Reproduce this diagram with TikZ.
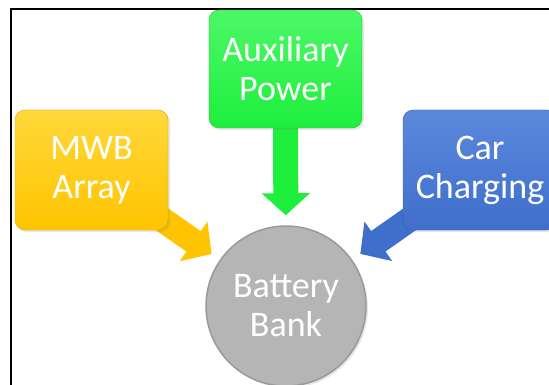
\documentclass[tikz,border=0pt]{standalone}
\usepackage{fontspec}
\setmainfont{Carlito}
\usepackage{tikz}
\usetikzlibrary{arrows.meta, backgrounds, shadows}

\definecolor{mwbgold}{HTML}{FFC400}
\definecolor{mwbgoldtop}{HTML}{FFD83A}
\definecolor{auxgreen}{HTML}{1EEE3C}
\definecolor{auxgreentop}{HTML}{4CF868}
\definecolor{carblue}{HTML}{3F6FCC}
\definecolor{carbluetop}{HTML}{5C88DC}
\definecolor{batgray}{HTML}{B5B5B5}

\begin{document}
\begin{tikzpicture}[x=1pt, y=-1pt, font=\fontsize{36}{39}\selectfont]
        \useasboundingbox (0,0) rectangle (549,385);
        \clip (0,0) rectangle (549,385);
        \draw[line width=2.5pt] (11,9) rectangle (620,440);

        \node[draw=mwbgold!85!black, top color=mwbgoldtop, bottom color=mwbgold, rounded corners=10pt,
              minimum width=153pt, minimum height=120pt, text=white, align=center,
              drop shadow={opacity=0.2, shadow xshift=2pt, shadow yshift=-2pt}]
          (mwb) at (91.5,170) {MWB\\Array};
        \node[draw=auxgreen!85!black, top color=auxgreentop, bottom color=auxgreen, rounded corners=10pt,
              minimum width=153pt, minimum height=118pt, text=white, align=center,
              drop shadow={opacity=0.2, shadow xshift=2pt, shadow yshift=-2pt}]
          (aux) at (285.5,69) {Auxiliary\\Power};
        \node[draw=carblue!85!black, top color=carbluetop, bottom color=carblue, rounded corners=10pt,
              minimum width=154pt, minimum height=120pt, text=white, align=center,
              drop shadow={opacity=0.2, shadow xshift=2pt, shadow yshift=-2pt}]
          (car) at (480,170) {Car\\Charging};

        \node[circle, draw=gray!80, line width=1.5pt, fill=batgray, minimum size=160pt,
              text=white, align=center, inner sep=0pt,
              drop shadow={opacity=0.2, shadow xshift=2pt, shadow yshift=-2pt}]
          (bat) at (286,306) {Battery\\Bank};

        \begin{scope}[on background layer]
          \foreach \a/\c in {mwb/mwbgold, aux/auxgreen, car/carblue}
            \draw[\c, line width=25pt, -{Triangle[length=22pt, width=47pt]}, shorten >=10pt]
              (\a.center) -- (bat);
        \end{scope}
      \end{tikzpicture}
\end{document}
